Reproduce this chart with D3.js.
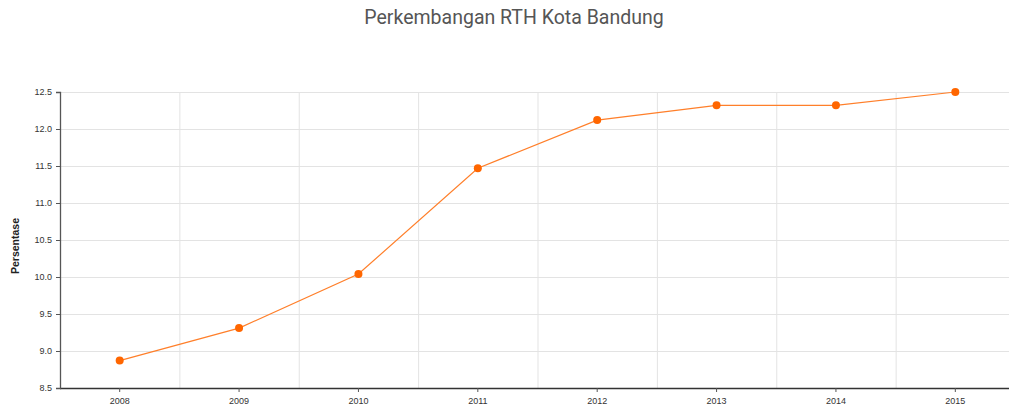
<!DOCTYPE html>
<html>
<head>
<meta charset="utf-8">
<script src="https://cdnjs.cloudflare.com/ajax/libs/d3/7.8.5/d3.min.js"></script>
<style>
  body { margin: 0; background: #fff; font-family: Roboto, Arial, sans-serif; }
  .axis text { font-size: 9px; fill: #333; font-family: Arial, "Liberation Sans", sans-serif; }
  .grid line { stroke: #e3e3e3; }
</style>
</head>
<body>
<svg id="chart"></svg>
<script>
let years = ["2008", "2009", "2010", "2011", "2012", "2013", "2014", "2015"];
let persentase = [8.87, 9.31, 10.04, 11.47, 12.12, 12.32, 12.32, 12.5];
let yTicks = [8.5, 9.0, 9.5, 10.0, 10.5, 11.0, 11.5, 12.0, 12.5];

function drawChart() {
    let width = 1009, height = 411;
    let svg = d3.select("#chart").attr("width", width).attr("height", height);

    let x = d3.scaleBand().domain(years).range([60, 1015]);
    let y = d3.scaleLinear().domain([8.5, 12.5]).range([388, 92]);

    // horizontal grid
    svg.append("g").attr("class", "grid")
        .selectAll("line").data(yTicks.slice(1))
        .enter().append("line")
        .attr("x1", 60).attr("x2", width)
        .attr("y1", d => y(d) + 0.5).attr("y2", d => y(d) + 0.5);

    // vertical grid at band boundaries
    svg.append("g").attr("class", "grid")
        .selectAll("line").data(years.slice(1))
        .enter().append("line")
        .attr("x1", d => x(d) + 0.5).attr("x2", d => x(d) + 0.5)
        .attr("y1", 92).attr("y2", 388);

    let xAxis = d3.axisBottom(x).tickSizeOuter(0).tickSize(4).tickPadding(6);
    svg.append("g").attr("class", "axis")
        .attr("transform", "translate(0,388)")
        .call(xAxis)
        .call(g => g.select(".domain").attr("stroke", "#333").attr("stroke-width", 1.3).attr("d", "M60,0.5H" + width));

    let yAxis = d3.axisLeft(y).tickValues(yTicks).tickFormat(d3.format(".1f"))
        .tickSizeOuter(0).tickSize(4).tickPadding(4);
    svg.append("g").attr("class", "axis")
        .attr("transform", "translate(60,0)")
        .call(yAxis)
        .call(g => g.select(".domain").attr("stroke", "#555").attr("stroke-width", 1.3));
    svg.selectAll(".axis .tick line").attr("stroke", "#555");

    let line = d3.line()
        .x((d, i) => x(years[i]) + x.bandwidth() / 2)
        .y(d => y(d));
    svg.append("path").datum(persentase)
        .attr("d", line)
        .attr("fill", "none")
        .attr("stroke", "#ff7f2a")
        .attr("stroke-width", 1.2);

    svg.append("g").selectAll("circle").data(persentase)
        .enter().append("circle")
        .attr("cx", (d, i) => x(years[i]) + x.bandwidth() / 2)
        .attr("cy", d => y(d))
        .attr("r", 4)
        .attr("fill", "#ff6600");

    svg.append("text")
        .attr("x", 514).attr("y", 24)
        .attr("text-anchor", "middle")
        .style("font-family", "Roboto, sans-serif")
        .style("font-size", "19.5px")
        .attr("fill", "#555")
        .text("Perkembangan RTH Kota Bandung");

    svg.append("text")
        .attr("transform", "translate(19,246) rotate(-90)")
        .attr("text-anchor", "middle")
        .style("font-family", "Arial, 'Liberation Sans', sans-serif")
        .style("font-size", "10.5px")
        .style("font-weight", "bold")
        .attr("fill", "#222")
        .text("Persentase");
}

drawChart();
</script>
</body>
</html>
